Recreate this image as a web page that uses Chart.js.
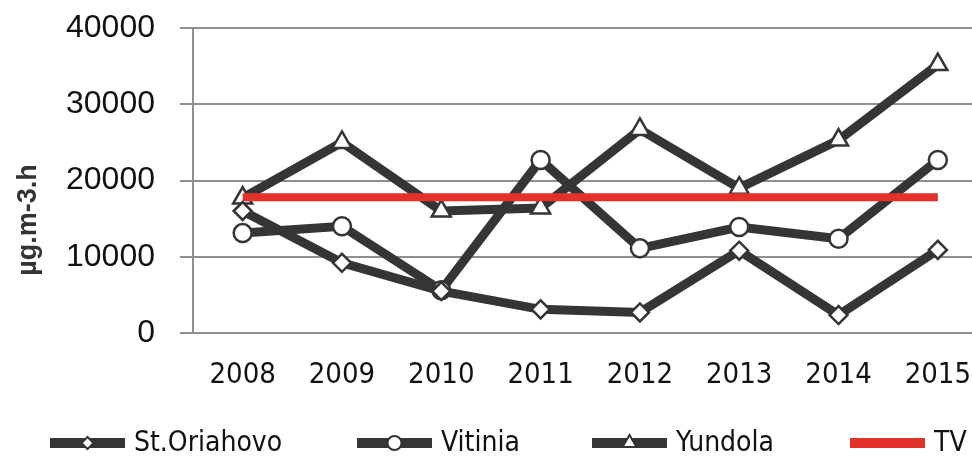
<!DOCTYPE html>
<html lang="en">
<head>
    <meta charset="UTF-8">
    <title>Chart</title>
    <script src="https://cdn.jsdelivr.net/npm/chart.js@4.4.1/dist/chart.umd.min.js"></script>
    <style>
        html, body { margin: 0; padding: 0; background: #fff; overflow: hidden; }
        #wrap { width: 1001px; height: 457px; position: relative; }
    </style>
</head>
<body>
    <div id="wrap"><canvas id="grafico"></canvas></div>

    <script>
        // datos
        const years = ['2008', '2009', '2010', '2011', '2012', '2013', '2014', '2015'];
        const stOriahovo = [16000, 9200, 5500, 3100, 2700, 10800, 2350, 10900];
        const vitinia = [13100, 14000, 5600, 22700, 11100, 13900, 12350, 22700];
        const yundola = [17700, 25000, 16000, 16400, 26700, 19000, 25300, 35200];
        const tv = [17800, 17800, 17800, 17800, 17800, 17800, 17800, 17800];
        const yTicks = [0, 10000, 20000, 30000, 40000];
        const yTitle = 'µg.m-3.h';

        const narrow = "'Liberation Sans Narrow', 'DejaVu Sans Condensed', sans-serif";
        const gris = '#353535';
        const rojo = '#e2322a';

        // titulo del eje y (no centrado en el eje, como en el original)
        const tituloY = {
            id: 'tituloY',
            afterDraw(chart) {
                const ctx = chart.ctx;
                ctx.save();
                ctx.translate(29, 220);
                ctx.rotate(-Math.PI / 2);
                ctx.font = "bold 27px 'Liberation Sans', sans-serif";
                ctx.fillStyle = '#333';
                ctx.textAlign = 'center';
                ctx.textBaseline = 'middle';
                ctx.fillText(yTitle, 0, 0);
                ctx.restore();
            }
        };

        // leyenda abajo con linea + marcador
        const leyenda = {
            id: 'leyenda',
            afterDraw(chart) {
                const ctx = chart.ctx;
                const inicios = [50, 357, 592, 850];
                const y = 443;
                chart.data.datasets.forEach(function(ds, i) {
                    const x = inicios[i];
                    ctx.save();
                    ctx.strokeStyle = ds.borderColor;
                    ctx.lineWidth = 10;
                    ctx.beginPath();
                    ctx.moveTo(x, y);
                    ctx.lineTo(x + 75, y);
                    ctx.stroke();
                    if (ds.pointRadius > 0) {
                        ctx.fillStyle = '#fff';
                        ctx.strokeStyle = gris;
                        ctx.lineWidth = 2;
                        Chart.helpers.drawPoint(ctx, {
                            pointStyle: ds.pointStyle,
                            radius: ds.legendRadius,
                            borderWidth: 2,
                            rotation: 0
                        }, x + 37.5, y);
                    }
                    ctx.font = '28px ' + narrow;
                    ctx.fillStyle = '#111';
                    ctx.textAlign = 'left';
                    ctx.textBaseline = 'middle';
                    ctx.fillText(ds.label, x + 84, y + 1);
                    ctx.restore();
                });
            }
        };

        function serie(label, data, estilo, radio, radioLeyenda) {
            return {
                label: label,
                data: data,
                borderColor: gris,
                backgroundColor: '#fff',
                borderWidth: 9,
                tension: 0,
                pointStyle: estilo,
                pointRadius: radio,
                pointBorderWidth: 2.5,
                pointBorderColor: gris,
                pointBackgroundColor: '#fff',
                legendRadius: radioLeyenda
            };
        }

        new Chart(document.getElementById('grafico'), {
            type: 'line',
            data: {
                labels: years,
                datasets: [
                    serie('St.Oriahovo', stOriahovo, 'rectRot', 9, 6),
                    serie('Vitinia', vitinia, 'circle', 9, 7),
                    serie('Yundola', yundola, 'triangle', 11, 8),
                    {
                        label: 'TV',
                        data: tv,
                        borderColor: rojo,
                        backgroundColor: rojo,
                        borderWidth: 8,
                        pointRadius: 0,
                        tension: 0,
                        order: -1
                    }
                ]
            },
            options: {
                responsive: true,
                maintainAspectRatio: false,
                animation: false,
                layout: {
                    padding: { left: 0, right: 6, top: 28, bottom: 0 }
                },
                plugins: {
                    legend: { display: false },
                    tooltip: { enabled: false }
                },
                scales: {
                    x: {
                        offset: true,
                        grid: { display: false },
                        border: { display: false },
                        ticks: {
                            color: '#111',
                            padding: 17,
                            maxRotation: 0,
                            font: { size: 29, family: narrow }
                        },
                        afterFit: function(escala) {
                            escala.height = 124;
                        }
                    },
                    y: {
                        min: 0,
                        max: 40000,
                        afterBuildTicks: function(escala) {
                            escala.ticks = yTicks.map(function(v) { return { value: v }; });
                        },
                        grid: {
                            color: '#8f8f8f',
                            lineWidth: 2,
                            drawTicks: true,
                            tickLength: 13
                        },
                        border: { display: true, color: '#8f8f8f', width: 2 },
                        ticks: {
                            color: '#111',
                            padding: 25,
                            font: { size: 32, family: "'Liberation Sans', sans-serif" },
                            callback: function(valor) {
                                return String(valor);
                            }
                        },
                        afterFit: function(escala) {
                            escala.width = 193;
                            escala.paddingTop = 0;
                            escala.paddingBottom = 0;
                        }
                    }
                }
            },
            plugins: [tituloY, leyenda]
        });
    </script>
</body>
</html>
